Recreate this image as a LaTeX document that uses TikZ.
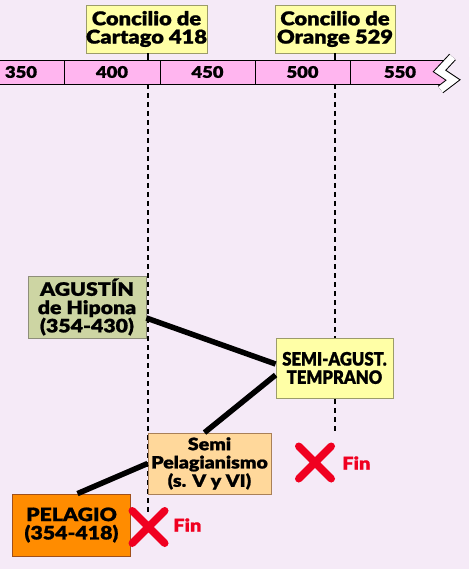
\documentclass[tikz,border=0pt]{standalone}
\usepackage{fontspec}
\setmainfont{Lato}
\newfontfamily\heavy{Lato Black}[FakeStretch=1.15,FakeBold=1]
\newfontfamily\heavynarrow{Lato Black}[FakeStretch=0.9,FakeBold=1]
\usetikzlibrary{calc}
\usetikzlibrary{shapes.misc}
\definecolor{bgcol}{HTML}{F5EAF7}
\definecolor{barpink}{HTML}{FFB5EF}
\definecolor{councilfill}{HTML}{FFFFA6}
\definecolor{councilline}{HTML}{9C9C6A}
\definecolor{agustinfill}{HTML}{CDD5A3}
\definecolor{agustinline}{HTML}{8E8E7A}
\definecolor{semipelfill}{HTML}{FFD89B}
\definecolor{semipelline}{HTML}{A98058}
\definecolor{pelagiofill}{HTML}{FF8C00}
\definecolor{pelagioline}{HTML}{A0501A}
\definecolor{finred}{HTML}{F00020}
\tikzset{%
  box/.style = {rectangle,draw,solid,line width=0.8pt,inner sep=0pt,
        align=center,font=\heavy\fontsize{18.5}{18.3}\selectfont},
  council/.style = {box,fill=councilfill,draw=councilline,
        minimum width=120pt,minimum height=48pt,
        font=\heavy\fontsize{19}{18.3}\selectfont},
  yearbox/.style = {rectangle,draw,fill=barpink,line width=0.8pt,
        minimum height=24pt,font=\heavy\fontsize{16}{16}\selectfont},
  link/.style = {line width=5.5pt},
  tickline/.style = {line width=1.5pt},
  eraline/.style = {tickline,dash pattern=on 5pt off 4pt},
  finmark/.style = {cross out,draw=finred,line width=7.5pt,line cap=round,
        minimum size=25pt,inner sep=0pt},
  fintext/.style = {anchor=west,text=finred,inner sep=0pt,
        font=\heavy\fontsize{17.5}{17.5}\selectfont}
}

\begin{document}
\begin{tikzpicture}[x=1pt,y=-1pt]
    \fill[bgcol] (0,0) rectangle (469,569);
    \useasboundingbox (0,0) rectangle (469,569);
    % time bar
    \foreach \cx/\w/\yr in {21/86/350,112/96/400,207.5/95/450,302.5/95/500,400/100/550}
        \node[yearbox,minimum width=\w pt] (y\yr) at (\cx,72) {\yr};
    \fill[bgcol] (452.5,57) -- (439.5,71) -- (453,80) -- (440.5,89.5)
        -- (469,89.5) -- (469,57) -- cycle;
    \draw[line width=9pt,line join=miter] (452.5,57) -- (439.5,71) -- (453,80) -- (440.5,89.5);
    \draw[white,line width=7pt,line join=miter] (452.5,57) -- (439.5,71) -- (453,80) -- (440.5,89.5);
    % councils
    \node[council] (cartago) at (146.5,29) {Concilio de\\Cartago 418};
    \node[council] (orange) at (335,29) {Concilio de\\Orange 529};
    \coordinate (topA) at (148,60);
    \coordinate (topB) at (335,60);
    \coordinate (lowA) at (148,84);
    \coordinate (lowB) at (335,84);
    \coordinate (endA) at (148,512);
    \coordinate (endB) at (335,433);
    \draw[tickline] (cartago.south -| topA) -- (topA);
    \draw[tickline] (orange.south) -- (topB);
    \draw[eraline] (lowA) -- (endA);
    \draw[eraline] (lowB) -- (endB);
    % currents
    \node[box,fill=agustinfill,draw=agustinline,minimum width=118pt,
        minimum height=62pt] (agustin) at (87,307) {AGUSTÍN\\de Hipona\\(354-430)};
    \node[box,fill=councilfill,draw=councilline,minimum width=117pt,
        minimum height=60pt,font=\heavynarrow\fontsize{18.5}{18.3}\selectfont]
        (semiag) at (334.5,368) {SEMI-AGUST.\\TEMPRANO};
    \node[box,fill=semipelfill,draw=semipelline,minimum width=123pt,
        minimum height=61pt,font=\heavy\fontsize{17}{18.3}\selectfont]
        (semipel) at (209.5,463.5) {Semi\\Pelagianismo\\(s. V y VI)};
    \node[box,fill=pelagiofill,draw=pelagioline,minimum width=118pt,
        minimum height=62pt] (pelagio) at (71.5,525) {PELAGIO\\(354-418)};
    \draw[link] ($(agustin.east)+(0,11)$) -- ($(semiag.west)+(0,-4)$);
    \draw[link] ($(semipel.north)+(-5,0)$) -- ($(semiag.west)+(0,7)$);
    \draw[link] ($(pelagio.north)+(6,0)$) -- (semipel.west);
    % ends
    \node[finmark] (xpel) at (148.5,527) {};
    \node[fintext] (finpel) at (173,525) {Fin};
    \node[finmark] (xsemi) at (315,462.5) {};
    \node[fintext] (finsemi) at (342,463) {Fin};
\end{tikzpicture}
\end{document}
